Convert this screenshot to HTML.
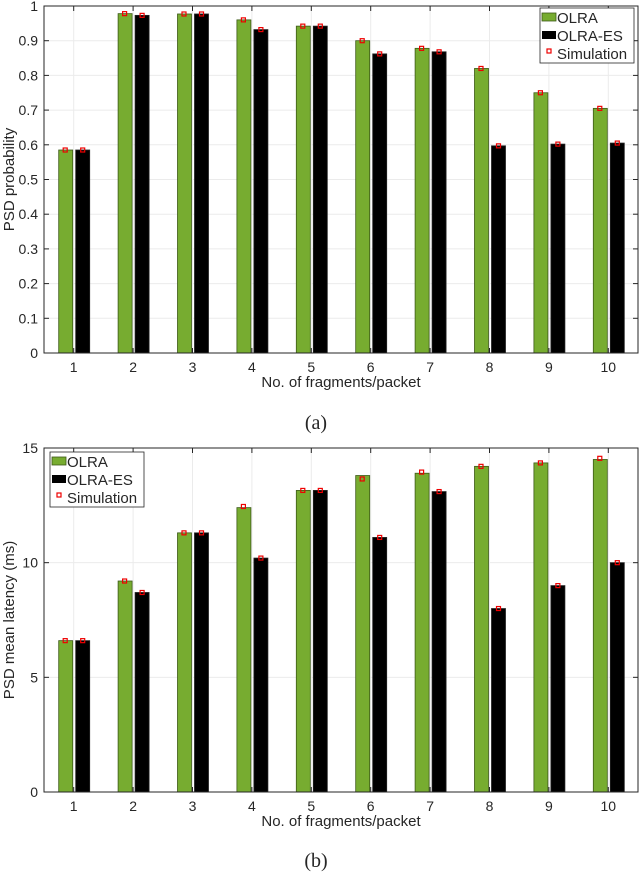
<!DOCTYPE html>
<html><head><meta charset="utf-8"><style>
body{margin:0;background:#fff;}
svg text{font-family:"Liberation Sans",sans-serif;fill:#262626;}
</style></head><body>
<svg id="s" width="640" height="877" xmlns="http://www.w3.org/2000/svg"></svg>
<script>
const categories=[1,2,3,4,5,6,7,8,9,10];
const probOLRA=[0.585,0.978,0.977,0.96,0.942,0.90,0.878,0.82,0.75,0.705];
const probES=[0.585,0.973,0.977,0.932,0.942,0.862,0.868,0.597,0.602,0.605];
const probSimOLRA=[0.585,0.978,0.977,0.96,0.942,0.90,0.878,0.82,0.75,0.705];
const probSimES=[0.585,0.973,0.977,0.932,0.942,0.862,0.868,0.597,0.602,0.605];
const probTicks=[0,0.1,0.2,0.3,0.4,0.5,0.6,0.7,0.8,0.9,1];
const latOLRA=[6.6,9.2,11.3,12.4,13.15,13.8,13.9,14.2,14.35,14.5];
const latES=[6.6,8.7,11.3,10.2,13.15,11.1,13.1,8.0,9.0,10.0];
const latSimOLRA=[6.6,9.2,11.3,12.45,13.15,13.65,13.95,14.2,14.35,14.55];
const latSimES=[6.6,8.7,11.3,10.2,13.15,11.1,13.1,8.0,9.0,10.0];
const latTicks=[0,5,10,15];
const NS="http://www.w3.org/2000/svg";
const svg=document.getElementById('s');
function mk(t,a,p){const e=document.createElementNS(NS,t);for(const k in a)e.setAttribute(k,a[k]);(p||svg).appendChild(e);return e;}
function chart(o){
  const g=mk('g',{});
  
  
  const L=44,R=638,T=o.top,B=o.bottom;
  const x=c=>L+(c-0.5)/10*(R-L);
  const y=v=>B-(v-o.min)/(o.max-o.min)*(B-T);
  mk('rect',{x:L,y:T,width:R-L,height:B-T,fill:'#fff'},g);
  o.ticks.forEach(t=>{mk('line',{x1:L,x2:R,y1:y(t),y2:y(t),stroke:'#ebebeb','stroke-width':1},g);});
  categories.forEach(c=>{mk('line',{x1:x(c),x2:x(c),y1:T,y2:B,stroke:'#ebebeb','stroke-width':1},g);});
  categories.forEach((c,i)=>{
    const b1=mk('rect',{x:x(c)-15,y:y(o.a[i]),width:14,height:B-y(o.a[i]),fill:'#77ac30',stroke:'#3d5a18','stroke-width':0.8},g);
    
    
    const b2=mk('rect',{x:x(c)+2,y:y(o.b[i]),width:14,height:B-y(o.b[i]),fill:'#000',stroke:'#222','stroke-width':0.8},g);
    
    
  });
  categories.forEach((c,i)=>{
    const m1=mk('rect',{x:x(c)-10.5,y:y(o.sa[i])-2,width:4,height:4,fill:'none',stroke:'#e00','stroke-width':1.2},g);
    
    
    const m2=mk('rect',{x:x(c)+7,y:y(o.sb[i])-2,width:4,height:4,fill:'none',stroke:'#e00','stroke-width':1.2},g);
    
    
  });
  mk('rect',{x:L,y:T,width:R-L,height:B-T,fill:'none',stroke:'#262626','stroke-width':1},g);
  o.ticks.forEach(t=>{
    mk('line',{x1:L,x2:L+5,y1:y(t),y2:y(t),stroke:'#262626'},g);
    mk('line',{x1:R,x2:R-5,y1:y(t),y2:y(t),stroke:'#262626'},g);
    const tx=mk('text',{x:L-6,y:y(t)+5,'text-anchor':'end','font-size':14},g);tx.textContent=String(t);
    
    
  });
  categories.forEach(c=>{
    mk('line',{x1:x(c),x2:x(c),y1:B,y2:B-5,stroke:'#262626'},g);
    mk('line',{x1:x(c),x2:x(c),y1:T,y2:T+5,stroke:'#262626'},g);
    const tx=mk('text',{x:x(c),y:B+19,'text-anchor':'middle','font-size':14},g);tx.textContent=String(c);
    
    
  });
  const xl=mk('text',{x:(L+R)/2,y:B+34,'text-anchor':'middle','font-size':15},g);xl.textContent='No. of fragments/packet';
  
  
  const yl=mk('text',{x:0,y:0,'text-anchor':'middle','font-size':15,transform:`translate(14,${(T+B)/2}) rotate(-90)`},g);yl.textContent=o.ylabel;
  
  
  const lg=mk('g',{},g);
  
  
  const lx=o.lx,ly=o.ly;
  mk('rect',{x:lx,y:ly,width:94,height:55,fill:'#fff',stroke:'#262626','stroke-width':0.8},lg);
  mk('rect',{x:lx+2,y:ly+5,width:14,height:8,fill:'#77ac30',stroke:'#3d5a18','stroke-width':0.8},lg);
  mk('rect',{x:lx+2,y:ly+23,width:14,height:8,fill:'#000'},lg);
  mk('rect',{x:lx+7,y:ly+41,width:4,height:4,fill:'none',stroke:'#e00','stroke-width':1.2},lg);
  [['OLRA',15],['OLRA-ES',33],['Simulation',51]].forEach(([t,dy])=>{const e=mk('text',{x:lx+17,y:ly+dy,'font-size':15},lg);e.textContent=t;});
  const cap=mk('text',{x:(L+R)/2-25,y:o.capY,'text-anchor':'middle','font-size':20,style:'font-family:"Liberation Serif",serif'},g);cap.textContent=o.cap;
  
  
}
chart({name:'chart-a',top:6,bottom:353,min:0,max:1,ticks:probTicks,a:probOLRA,b:probES,sa:probSimOLRA,sb:probSimES,ylabel:'PSD probability',lx:540,ly:8,cap:'(a)',capY:429});
chart({name:'chart-b',top:448,bottom:792,min:0,max:15,ticks:latTicks,a:latOLRA,b:latES,sa:latSimOLRA,sb:latSimES,ylabel:'PSD mean latency (ms)',lx:50,ly:452,cap:'(b)',capY:867});
</script>
</body></html>
